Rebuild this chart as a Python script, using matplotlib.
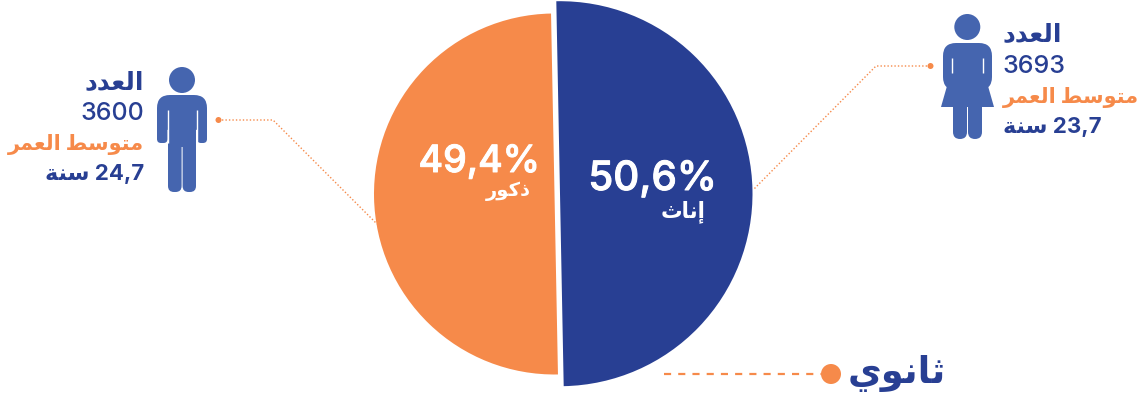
import matplotlib
matplotlib.use("Agg")
import matplotlib.pyplot as plt
import matplotlib.patheffects as pe
from matplotlib.patches import Circle, FancyBboxPatch, Polygon

WIDTH = 1145
HEIGHT = 403

NAVY = "#283F93"
ORANGE = "#F68A4A"
ICON = "#4565AF"

# the two slices are drawn as half and half in the picture, whatever the labels say
slice_sizes = [50, 50]
share_labels = ["50,6%", "49,4%"]
groups = ["إناث", "ذكور"]
counts = [3693, 3600]
ages = ["23,7", "24,7"]
level = "ثانوي"
count_label = "العدد"
age_label = "متوسط العمر"
year_label = "سنة"

plt.rcParams["font.family"] = ["Inter", "DejaVu Sans"]

# isolated, final, initial, medial
FORMS = {
    "ا": "\ufe8d\ufe8e", "إ": "\ufe87\ufe88", "د": "\ufea9\ufeaa", "ذ": "\ufeab\ufeac",
    "ر": "\ufead\ufeae", "و": "\ufeed\ufeee", "ة": "\ufe93\ufe94",
    "ت": "\ufe95\ufe96\ufe97\ufe98", "ث": "\ufe99\ufe9a\ufe9b\ufe9c",
    "س": "\ufeb1\ufeb2\ufeb3\ufeb4", "ط": "\ufec1\ufec2\ufec3\ufec4",
    "ع": "\ufec9\ufeca\ufecb\ufecc", "ك": "\ufed9\ufeda\ufedb\ufedc",
    "ل": "\ufedd\ufede\ufedf\ufee0", "م": "\ufee1\ufee2\ufee3\ufee4",
    "ن": "\ufee5\ufee6\ufee7\ufee8", "ي": "\ufef1\ufef2\ufef3\ufef4",
}


def shape(text):
    # matplotlib does no Arabic shaping, so pick the joined forms by hand
    out = []
    for i, ch in enumerate(text):
        if ch not in FORMS:
            out.append(ch)
            continue
        prev = text[i - 1] if i > 0 else " "
        after = text[i + 1] if i + 1 < len(text) else " "
        joins_prev = prev in FORMS and len(FORMS[prev]) == 4
        joins_next = after in FORMS and len(FORMS[ch]) == 4
        index = {(False, False): 0, (True, False): 1, (False, True): 2, (True, True): 3}
        out.append(FORMS[ch][index[(joins_prev, joins_next)]])
    return "".join(reversed(out))


def py(y):
    return HEIGHT - y


def rbox(ax, x0, y0, x1, y1, r):
    ax.add_patch(FancyBboxPatch((x0 + r, py(y1) + r), x1 - x0 - 2 * r, y1 - y0 - 2 * r,
                                boxstyle=f"round,pad={r},rounding_size={r}",
                                fc=ICON, ec="none", zorder=3))


def slit(ax, x, y0, y1, lw=1.0):
    ax.plot([x, x], [py(y0), py(y1)], color="white", lw=lw, zorder=4, solid_capstyle="butt")


def draw_man(ax):
    ax.add_patch(Circle((182, py(80)), 13, fc=ICON, ec="none", zorder=3))
    rbox(ax, 157, 95, 207, 130, 13)
    rbox(ax, 157, 110, 167.5, 143, 4)
    rbox(ax, 197, 110, 207, 143, 4)
    rbox(ax, 168, 100, 181.6, 192, 6)
    rbox(ax, 182.6, 100, 196, 192, 6)
    rbox(ax, 168, 100, 196, 147, 0.5)
    slit(ax, 167.7, 110, 143)
    slit(ax, 197, 110, 143)


def draw_woman(ax):
    ax.add_patch(Circle((967.3, py(27)), 13, fc=ICON, ec="none", zorder=3))
    rbox(ax, 943, 43, 992, 90, 13)
    ax.add_patch(Polygon([(947, py(86)), (988, py(86)), (994, py(107)), (941, py(107))],
                         fc=ICON, ec="none", zorder=3))
    rbox(ax, 953, 100, 967, 139, 7)
    rbox(ax, 968, 100, 982, 139, 7)
    slit(ax, 952, 58, 73)
    slit(ax, 983, 58, 73)


def draw_leader(ax, xs, ys, dot_r):
    ax.plot(xs, [py(y) for y in ys], color=ORANGE, lw=1.0, ls=(0, (1, 1.5)), zorder=2)
    ax.add_patch(Circle((xs[0], py(ys[0])), dot_r, fc=ORANGE, ec="none", zorder=3))


def draw_block(ax, x, ha, baselines, count, age):
    ax.text(x, py(baselines[0]), shape(count_label), ha=ha, va="baseline",
            color=NAVY, fontsize=18, fontweight="bold")
    ax.text(x, py(baselines[1]), str(count), ha=ha, va="baseline",
            color=NAVY, fontsize=18, fontweight="medium")
    ax.text(x, py(baselines[2]), shape(age_label), ha=ha, va="baseline",
            color=ORANGE, fontsize=15, fontweight="bold")
    ax.text(x, py(baselines[3]), shape(year_label) + " " + age, ha=ha,
            va="baseline", color=NAVY, fontsize=16, fontweight="bold")


fig = plt.figure(figsize=(WIDTH / 100, HEIGHT / 100), dpi=100)
ax = fig.add_axes([0, 0, 1, 1])

wedges, _ = ax.pie(slice_sizes, colors=[NAVY, ORANGE], startangle=91.1, counterclock=False,
                   center=(560, py(193.7)), radius=192.5, frame=True)
wedges[1].set_center((554.5, py(194)))
wedges[1].set_radius(180.5)

ax.set_xlim(0, WIDTH)
ax.set_ylim(0, HEIGHT)
ax.set_aspect("equal")
ax.axis("off")

thicker = [pe.withStroke(linewidth=0.7, foreground="white")]
ax.text(717, py(190), share_labels[0], ha="right", va="baseline", color="white",
        fontsize=29, fontweight="medium", path_effects=thicker)
ax.text(540, py(172), share_labels[1], ha="right", va="baseline", color="white",
        fontsize=27, fontweight="medium", path_effects=thicker)
ax.text(706, py(217), shape(groups[0]), ha="right", va="baseline", color="white",
        fontsize=15.5, fontweight="bold")
ax.text(531, py(196), shape(groups[1]), ha="right", va="baseline", color="white",
        fontsize=14, fontweight="bold")

draw_man(ax)
draw_woman(ax)
draw_leader(ax, [218.5, 273, 377], [120, 120, 224], 3)
draw_leader(ax, [930.5, 876, 753], [66, 66, 190], 3)
draw_block(ax, 144, "right", [90, 120, 150, 180], counts[1], ages[1])
draw_block(ax, 1003, "left", [42, 73, 103, 133], counts[0], ages[0])

ax.plot([664, 825], [py(374), py(374)], color=ORANGE, lw=1.6, ls=(0, (3.2, 3.2)), zorder=2)
ax.add_patch(Circle((831, py(374)), 10, fc=ORANGE, ec="none", zorder=3))
ax.text(946, py(383), shape(level), ha="right", va="baseline", color=NAVY,
        fontsize=26.5, fontweight="bold")

fig.savefig("out.png", dpi=100)
